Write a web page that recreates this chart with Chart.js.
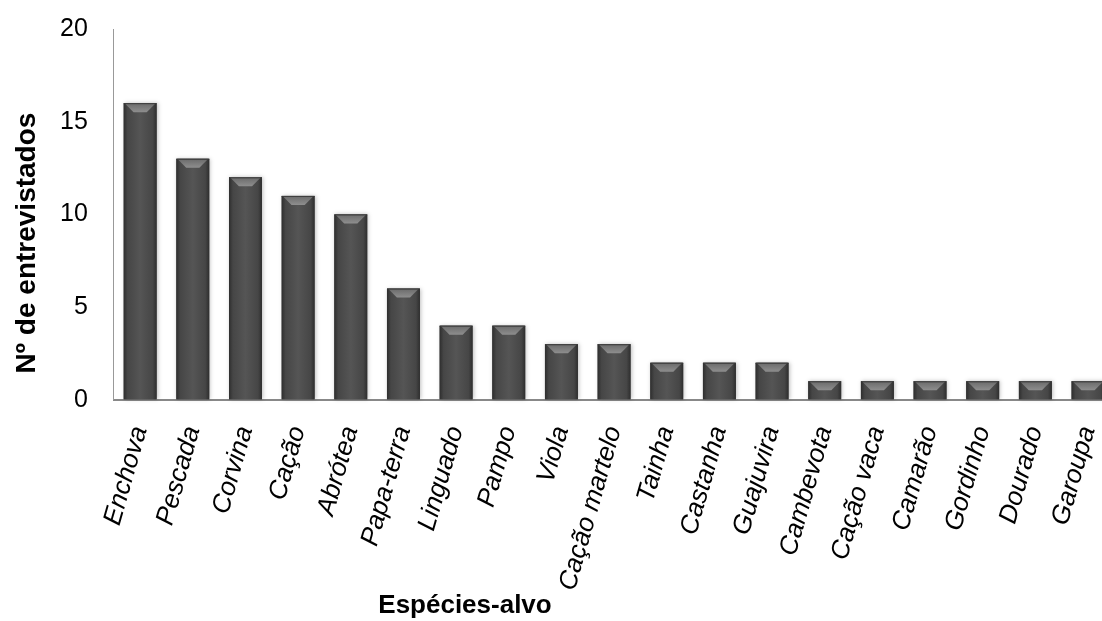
<!DOCTYPE html>
<html lang="pt">
<head>
<meta charset="utf-8">
<title>Espécies-alvo</title>
<script src="https://cdn.jsdelivr.net/npm/chart.js"></script>
<style>
  html,body{margin:0;padding:0;background:#fff;overflow:hidden}
  #chart{display:block}
</style>
</head>
<body>
<canvas id="chart" width="1141" height="621"></canvas>
<script>
const especies = ['Enchova','Pescada','Corvina','Cação','Abrótea','Papa-terra','Linguado','Pampo','Viola','Cação martelo','Tainha','Castanha','Guajuvira','Cambevota','Cação vaca','Camarão','Gordinho','Dourado','Garoupa'];
const entrevistados = [16,13,12,11,10,6,4,4,3,3,2,2,2,1,1,1,1,1,1];
const tituloX = 'Espécies-alvo';
const tituloY = 'Nº de entrevistados';

const font = 'Liberation Sans, Arial, sans-serif';

// shaded bar look: horizontal gradient + bevelled top
const bevel = {
  id: 'bevel',
  afterDatasetsDraw(chart) {
    const c = chart.ctx;
    chart.getDatasetMeta(0).data.forEach(bar => {
      const w = bar.width, l = bar.x - w / 2, r = bar.x + w / 2;
      const t = bar.y, b = bar.base;
      c.save();
      c.shadowColor = 'rgba(0,0,0,0.25)';
      c.shadowBlur = 4;
      c.shadowOffsetX = 1;
      const g = c.createLinearGradient(l, 0, r, 0);
      g.addColorStop(0, '#2e2e2e');
      g.addColorStop(0.12, '#464646');
      g.addColorStop(0.5, '#555');
      g.addColorStop(0.88, '#464646');
      g.addColorStop(1, '#2e2e2e');
      c.fillStyle = g;
      c.fillRect(l, t, w, b - t);
      c.restore();
      // top bevel
      const h = Math.min(9, (b - t) / 2);
      const gb = c.createLinearGradient(0, t, 0, t + h);
      gb.addColorStop(0, '#6a6a6a');
      gb.addColorStop(1, '#8e8e8e');
      c.fillStyle = gb;
      c.beginPath();
      c.moveTo(l + 1, t);
      c.lineTo(r - 1, t);
      c.lineTo(r - w * 0.3, t + h);
      c.lineTo(l + w * 0.3, t + h);
      c.closePath();
      c.fill();
      c.fillStyle = '#3a3a3a';
      c.fillRect(l, t, w, 1);
    });
  }
};

// axis titles, placed like the original
const titulos = {
  id: 'titulos',
  afterDraw(chart) {
    const c = chart.ctx;
    c.save();
    c.fillStyle = '#000';
    c.textAlign = 'center';
    c.font = 'bold 26px ' + font;
    c.textBaseline = 'alphabetic';
    c.fillText(tituloX, 465, 613);
    c.translate(27, 243);
    c.rotate(-Math.PI / 2);
    c.font = 'bold 28px ' + font;
    c.textBaseline = 'middle';
    c.fillText(tituloY, 0, 0);
    c.restore();
  }
};

new Chart(document.getElementById('chart'), {
  type: 'bar',
  data: {
    labels: especies,
    datasets: [{
      data: entrevistados,
      backgroundColor: '#4a4a4a',
      barPercentage: 0.625,
      categoryPercentage: 1
    }]
  },
  options: {
    responsive: false,
    animation: false,
    layout: { padding: { top: 29, left: 46, right: 0, bottom: 4 } },
    plugins: { legend: { display: false }, tooltip: { enabled: false } },
    scales: {
      x: {
        grid: { display: true, drawOnChartArea: false, drawTicks: false },
        border: { color: '#888', width: 2 },
        ticks: {
          color: '#000',
          font: { family: font, size: 26, style: 'italic' },
          minRotation: 74,
          maxRotation: 74,
          autoSkip: false,
          padding: 23
        }
      },
      y: {
        min: 0,
        max: 20,
        grid: { display: true, drawOnChartArea: false, drawTicks: true, tickLength: 12, tickColor: 'rgba(0,0,0,0)' },
        border: { color: '#999', width: 1 },
        ticks: {
          stepSize: 5,
          color: '#000',
          font: { family: font, size: 25 },
          padding: 14
        }
      }
    }
  },
  plugins: [bevel, titulos]
});
</script>
</body>
</html>
